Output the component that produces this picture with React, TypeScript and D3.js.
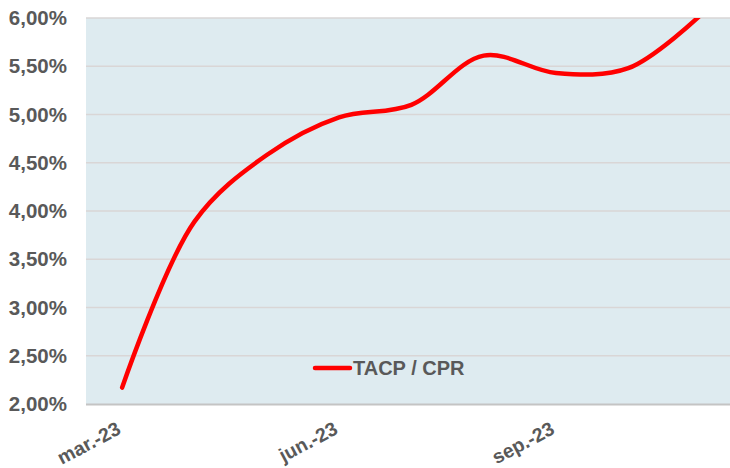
import React, { useEffect, useRef } from 'react'
import * as d3 from 'd3'

// monthly TACP / CPR values (%)
const months = ['mar.-23', 'abr.-23', 'may.-23', 'jun.-23', 'jul.-23', 'ago.-23', 'sep.-23', 'oct.-23', 'nov.-23']
const tacp = [2.17, 3.89, 4.58, 4.97, 5.1, 5.61, 5.43, 5.48, 6.03]
const yTicks = [2, 2.5, 3, 3.5, 4, 4.5, 5, 5.5, 6]
const xLabels = ['mar.-23', 'jun.-23', 'sep.-23']
const seriesName = 'TACP / CPR'

const width = 730
const height = 468

export default function App() {
  const ref = useRef<SVGSVGElement | null>(null)

  useEffect(() => {
    const svg = d3.select(ref.current)
    svg.selectAll('*').remove()

    const left = 86
    const right = 730
    const top = 18
    const bottom = 404

    const x = d3.scaleBand<string>().domain(months).range([left, left + months.length * 72.3])
    const cx = (m: string) => (x(m) as number) + x.bandwidth() / 2
    const y = d3.scaleLinear().domain([2, 6]).range([bottom, top])

    const grey = '#595959'
    const font = '"Liberation Sans", Arial, sans-serif'

    // plot background
    svg.append('rect')
      .attr('x', left).attr('y', top)
      .attr('width', right - left).attr('height', bottom - top)
      .attr('fill', '#deebf0')

    svg.append('clipPath').attr('id', 'plot-clip')
      .append('rect')
      .attr('x', left).attr('y', top)
      .attr('width', right - left).attr('height', bottom - top)

    // gridlines
    svg.append('g').selectAll('line')
      .data(yTicks.slice(1))
      .enter().append('line')
      .attr('x1', left).attr('x2', right)
      .attr('y1', d => y(d)).attr('y2', d => y(d))
      .attr('stroke', '#d9d6d6')
      .attr('stroke-width', 1.5)

    // bottom axis line
    svg.append('line')
      .attr('x1', left).attr('x2', right)
      .attr('y1', bottom + 0.5).attr('y2', bottom + 0.5)
      .attr('stroke', '#c4c4c4')
      .attr('stroke-width', 2)

    // y labels
    svg.append('g').selectAll('text')
      .data(yTicks)
      .enter().append('text')
      .attr('x', 67)
      .attr('y', d => y(d))
      .attr('dy', '0.35em')
      .attr('text-anchor', 'end')
      .attr('font-family', font)
      .attr('font-weight', 'bold')
      .attr('font-size', '20.5px')
      .attr('fill', grey)
      .text(d => d3.format('.2f')(d).replace('.', ',') + '%')

    // x labels (every third month)
    svg.append('g').selectAll('text')
      .data(xLabels)
      .enter().append('text')
      .attr('transform', d => `translate(${cx(d)}, 433) rotate(-28)`)
      .attr('text-anchor', 'end')
      .attr('font-family', font)
      .attr('font-weight', 'bold')
      .attr('font-size', '19.5px')
      .attr('fill', grey)
      .text(d => d)

    // series line
    const line = d3.line<number>()
      .x((d, i) => cx(months[i]))
      .y(d => y(d))
      .curve(d3.curveCatmullRom.alpha(0.5))

    svg.append('path')
      .datum(tacp)
      .attr('clip-path', 'url(#plot-clip)')
      .attr('d', line)
      .attr('fill', 'none')
      .attr('stroke', '#ff0000')
      .attr('stroke-width', 4.5)
      .attr('stroke-linecap', 'round')

    // legend
    const lg = svg.append('g').attr('transform', 'translate(315, 368)')
    lg.append('line')
      .attr('x1', 0).attr('x2', 35)
      .attr('stroke', '#ff0000')
      .attr('stroke-width', 4.5)
      .attr('stroke-linecap', 'round')
    lg.append('text')
      .attr('x', 38)
      .attr('dy', '0.35em')
      .attr('font-family', font)
      .attr('font-weight', 'bold')
      .attr('font-size', '20px')
      .attr('fill', grey)
      .text(seriesName)
  }, [])

  return (
    <svg
      ref={ref}
      width={width}
      height={height}
      style={{ position: 'absolute', top: 0, left: 0, background: '#fff' }}
    />
  )
}
